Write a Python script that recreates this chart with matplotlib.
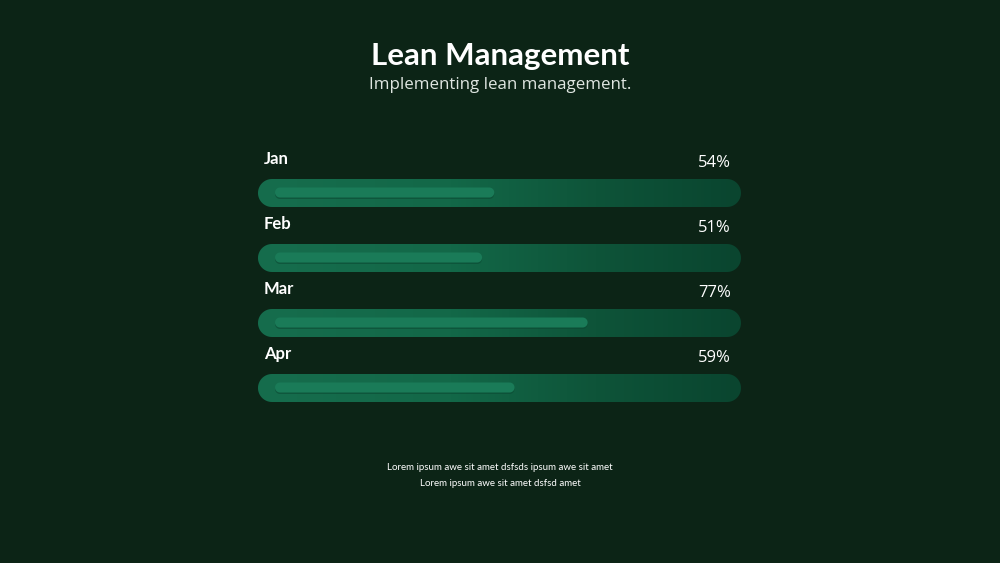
import numpy as np
import matplotlib
matplotlib.use("Agg")
import matplotlib.pyplot as plt
from matplotlib.patches import Polygon
from matplotlib.colors import LinearSegmentedColormap

# ---- data ----
months = ["Jan", "Feb", "Mar", "Apr"]
values = [54, 51, 77, 59]
value_labels = ["54%", "51%", "77%", "59%"]
title = "Lean Management"
subtitle = "Implementing lean management."
footer = ["Lorem ipsum awe sit amet dsfsds ipsum awe sit amet",
          "Lorem ipsum awe sit amet dsfsd amet"]

BG = "#0c2416"
W, H = 1000, 563
fig = plt.figure(figsize=(10, 5.63), dpi=100, facecolor=BG)

# axes placement in pixels
ax_left_px, ax_right_px = 258, 741
ax_top_px, ax_bot_px = 140, 410
ax = fig.add_axes([ax_left_px / W, 1 - ax_bot_px / H,
                   (ax_right_px - ax_left_px) / W, (ax_bot_px - ax_top_px) / H])
ax.set_facecolor(BG)
for s in ax.spines.values():
    s.set_visible(False)
ax.set_xticks([]); ax.set_yticks([])

px_per_pct = 4.06
x_start_px = 275
xmin = (ax_left_px - x_start_px) / px_per_pct
xmax = (ax_right_px - x_start_px) / px_per_pct
row0_px, row_step = 193, 65
ymin = (ax_top_px - row0_px) / row_step
ymax = (ax_bot_px - row0_px) / row_step
ax.set_xlim(xmin, xmax)
ax.set_ylim(ymax, ymin)

xu = 1 / px_per_pct      # x units per pixel
yu = 1 / row_step        # y units per pixel


def pill(x0, x1, yc, h_px, **kw):
    r = h_px / 2
    rx, ry = r * xu, r * yu
    t1 = np.linspace(-np.pi / 2, np.pi / 2, 40)
    t2 = np.linspace(np.pi / 2, 3 * np.pi / 2, 40)
    right = np.column_stack([x1 - rx + rx * np.cos(t1), yc + ry * np.sin(t1)])
    left = np.column_stack([x0 + rx + rx * np.cos(t2), yc + ry * np.sin(t2)])
    return Polygon(np.vstack([right, left]), closed=True, **kw)


cmap = LinearSegmentedColormap.from_list(
    "g", [(0.0, "#166d4d"), (0.4, "#136848"), (0.7, "#0e5439"), (1.0, "#0a452f")])
grad = np.linspace(0, 1, 256).reshape(1, -1)

outer_h_px = 28
for i, (m, v, lab) in enumerate(zip(months, values, value_labels)):
    outer = pill(xmin, xmax, i, outer_h_px, facecolor="none", edgecolor="none")
    ax.add_patch(outer)
    y0 = i - outer_h_px * yu / 2
    im = ax.imshow(grad, cmap=cmap, aspect="auto",
                   extent=(xmin, xmax, y0 + outer_h_px * yu, y0), zorder=1)
    im.set_clip_path(outer)

    yc = i - 0.5 * yu
    ax.add_patch(pill(0, v, yc + 1.5 * yu, 10, facecolor="#0b4a33",
                      edgecolor="none", alpha=0.6, zorder=2))
    ax.add_patch(pill(0, v, yc, 10, facecolor="#1a7b58", edgecolor="none", zorder=3))

    ax.text((264 - x_start_px) / px_per_pct, i - 34 * yu, m, ha="left", va="center",
            color="white", fontsize=12, fontweight="bold", family=["Lato", "DejaVu Sans"])
    ax.text((731 - x_start_px) / px_per_pct, i - 30 * yu, lab, ha="right", va="center",
            color="white", fontsize=12, family=["Open Sans", "DejaVu Sans"])

fig.text(0.5, 1 - 56 / H, title, ha="center", va="center", color="white",
         fontsize=22.5, fontweight="bold", family=["Lato", "DejaVu Sans"])
fig.text(0.5, 1 - 85 / H, subtitle, ha="center", va="center", color="#dfe6e1",
         fontsize=12.2, family=["Open Sans", "DejaVu Sans"])

fig.text(0.5, 1 - 468 / H, footer[0], ha="center", va="center", color="white",
         fontsize=7, family=["Lato", "DejaVu Sans"])
fig.text(0.5, 1 - 483 / H, footer[1], ha="center", va="center", color="white",
         fontsize=7, family=["Lato", "DejaVu Sans"])

fig.savefig("out.png", dpi=100, facecolor=BG)
